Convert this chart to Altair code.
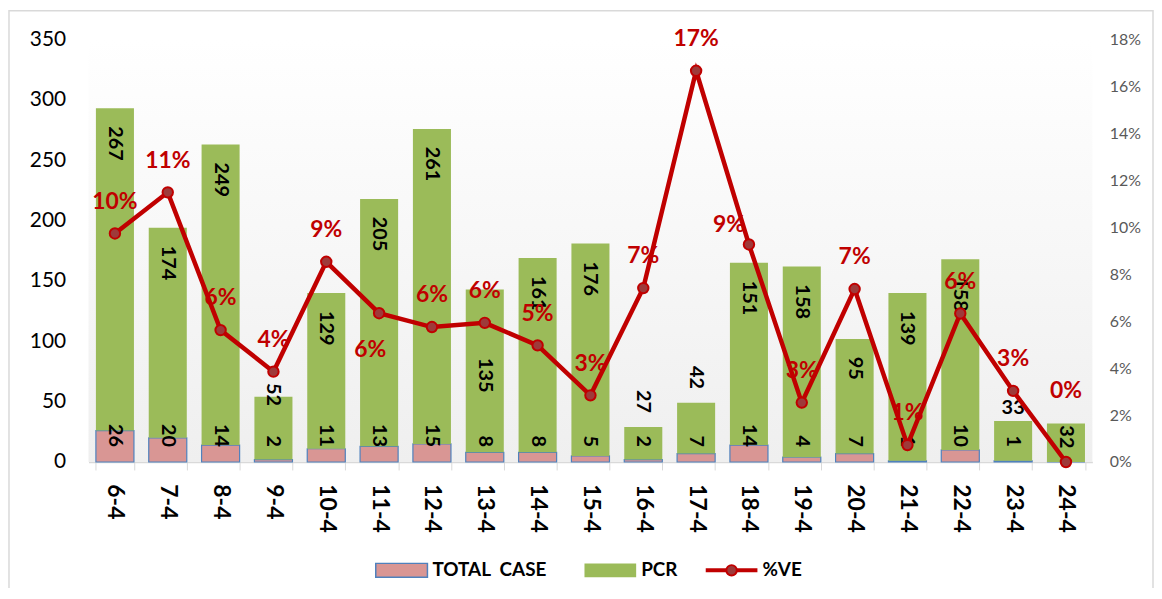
import altair as alt
import pandas as pd

dates = ["6-4", "7-4", "8-4", "9-4", "10-4", "11-4", "12-4", "13-4", "14-4", "15-4",
         "16-4", "17-4", "18-4", "19-4", "20-4", "21-4", "22-4", "23-4", "24-4"]
total_case = [26, 20, 14, 2, 11, 13, 15, 8, 8, 5, 2, 7, 14, 4, 7, 1, 10, 1, 0]
pcr = [267, 174, 249, 52, 129, 205, 261, 135, 161, 176, 27, 42, 151, 158, 95, 139, 158, 33, 32]
ve = [0.0974, 0.1149, 0.0562, 0.0385, 0.0853, 0.0634, 0.0575, 0.0593, 0.0497, 0.0284,
      0.0741, 0.1667, 0.0927, 0.0253, 0.0737, 0.0072, 0.0633, 0.0303, 0.0]
ve_labels = ["10%", "11%", "6%", "4%", "9%", "6%", "6%", "6%", "5%", "3%",
             "7%", "17%", "9%", "3%", "7%", "1%", "6%", "3%", "0%"]
series_names = ["TOTAL\u00a0 CASE", "PCR", "%VE"]
left_ticks = [0, 50, 100, 150, 200, 250, 300, 350]
right_ticks = [0, 0.02, 0.04, 0.06, 0.08, 0.10, 0.12, 0.14, 0.16, 0.18]

PINK = "#D99694"
BLUE = "#4F81BD"
GREEN = "#9BBB59"
RED = "#C00000"
FONT = "Lato"

df = pd.DataFrame({"date": dates, "total": total_case, "pcr": pcr,
                   "ve": ve, "ve_label": ve_labels})

W, H = 1010, 425

x_enc = alt.X(
    "date:N", sort=dates,
    scale=alt.Scale(paddingInner=0.28, paddingOuter=0.14),
    axis=alt.Axis(title=None, labelAngle=90, labelAlign="left", labelBaseline="middle",
                  labelFont=FONT, labelFontSize=23, labelFontWeight="bold",
                  labelColor="black", labelPadding=14, tickBand="extent",
                  tickColor="#d9d9d9", tickSize=8, domainColor="#d9d9d9",
                  domainWidth=1.5, grid=False),
)

yl_scale = alt.Scale(domain=[0, 350], nice=False)
yl_axis = alt.Axis(title=None, values=left_ticks, labelFont=FONT, labelFontSize=21,
                   labelColor="black", labelPadding=23, domain=False, ticks=False,
                   grid=False)

yr_scale = alt.Scale(domain=[0, 0.18], nice=False)
yr_axis = alt.Axis(title=None, orient="right", values=right_ticks, format=".0%",
                   labelFont=FONT, labelFontSize=16, labelColor="#595959",
                   labelPadding=17, domain=False, ticks=False, grid=False)

base = alt.Chart(df).transform_calculate(top="datum.total + datum.pcr", zero="0")
one = alt.Data(values=[{"k": 0}])

grad = alt.LinearGradient(
    gradient="linear", x1=0, y1=0, x2=0, y2=1,
    stops=[alt.GradientStop(color="#ffffff", offset=0),
           alt.GradientStop(color="#efefef", offset=1)],
)
bg = alt.Chart(one).mark_rect(color=grad).encode(
    x=alt.value(0), x2=alt.value(W), y=alt.value(0), y2=alt.value(H))

border = alt.Chart(one).mark_rect(fill=None, stroke="#d9d9d9", strokeWidth=1.5).encode(
    x=alt.value(-80), x2=alt.value(1071), y=alt.value(-29), y2=alt.value(600))

pink_bar = base.mark_bar(color=PINK, stroke=BLUE, strokeWidth=1.2).encode(
    x=x_enc, y=alt.Y("total:Q", scale=yl_scale, axis=yl_axis))
green_bar = base.mark_bar(color=GREEN).encode(
    x=x_enc, y=alt.Y("top:Q", scale=yl_scale, axis=yl_axis), y2="total:Q")

lab_font = dict(baseline="middle", font=FONT, fontSize=20, fontWeight="bold",
                color="black")
y_top = alt.Y("top:Q", scale=yl_scale, axis=yl_axis)

pcr_in = base.transform_filter("datum.pcr >= 60 && datum.date != '13-4'").mark_text(
    align="left", dx=18, angle=90, **lab_font).encode(x=x_enc, y=y_top, text="pcr:Q")
pcr_low = base.transform_filter("datum.date == '13-4'").mark_text(
    align="left", dx=69, angle=90, **lab_font).encode(x=x_enc, y=y_top, text="pcr:Q")
pcr_edge = base.transform_filter("datum.pcr >= 45 && datum.pcr < 60").mark_text(
    align="left", dx=-14, angle=90, **lab_font).encode(x=x_enc, y=y_top, text="pcr:Q")
pcr_out = base.transform_filter("datum.pcr < 40 && datum.total > 0 && datum.date != '23-4' || (datum.pcr >= 40 && datum.pcr < 45)").mark_text(
    align="right", dx=-14, angle=90, **lab_font).encode(x=x_enc, y=y_top, text="pcr:Q")
pcr_flat = base.transform_filter("datum.date == '23-4'").mark_text(
    align="center", dy=-13, **lab_font).encode(x=x_enc, y=y_top, text="pcr:Q")
pcr_top = base.transform_filter("datum.pcr < 45 && datum.total == 0").mark_text(
    align="left", dx=2, angle=90, **lab_font).encode(x=x_enc, y=y_top, text="pcr:Q")
tot_lab = base.transform_filter("datum.total > 0").mark_text(
    align="right", dx=-15, angle=90, **lab_font).encode(
    x=x_enc, y=alt.Y("zero:Q", scale=yl_scale, axis=yl_axis), text="total:Q")

# legend
leg_style = dict(align="left", baseline="middle", font=FONT, fontSize=19,
                 fontWeight="bold", color="black")
leg = [
    alt.Chart(one).mark_rect(fill=PINK, stroke=BLUE, strokeWidth=1.5).encode(
        x=alt.value(289), x2=alt.value(341), y=alt.value(527), y2=alt.value(541)),
    alt.Chart(one).mark_text(text=series_names[0], **leg_style).encode(
        x=alt.value(346), y=alt.value(534)),
    alt.Chart(one).mark_rect(fill=GREEN).encode(
        x=alt.value(499), x2=alt.value(551), y=alt.value(527), y2=alt.value(541)),
    alt.Chart(one).mark_text(text=series_names[1], **leg_style).encode(
        x=alt.value(556), y=alt.value(534)),
    alt.Chart(one).mark_rule(color=RED, strokeWidth=4).encode(
        x=alt.value(621), x2=alt.value(673), y=alt.value(534)),
    alt.Chart(one).mark_circle(size=110, color="#9E3A3A", stroke=RED, strokeWidth=2,
                               opacity=1).encode(x=alt.value(647), y=alt.value(534)),
    alt.Chart(one).mark_text(text=series_names[2], **leg_style).encode(
        x=alt.value(678), y=alt.value(534)),
]

left = alt.layer(bg, border, pink_bar, green_bar, pcr_in, pcr_low, pcr_edge, pcr_out,
                 pcr_flat, pcr_top, tot_lab, *leg)

y_ve = alt.Y("ve:Q", scale=yr_scale, axis=yr_axis)
ve_line = base.mark_line(color=RED, strokeWidth=4.5).encode(x=x_enc, y=y_ve)
ve_pts = base.mark_circle(size=110, color="#9E3A3A", stroke=RED, strokeWidth=2,
                          opacity=1).encode(x=x_enc, y=y_ve)
lab_style = dict(font=FONT, fontSize=23, fontWeight="bold", color=RED,
                 baseline="middle", align="center")
ve_lab = base.transform_filter(
    "datum.date != '11-4' && datum.date != '24-4' && datum.date != '18-4'").mark_text(
    dy=-32, **lab_style).encode(x=x_enc, y=y_ve, text="ve_label:N")
ve_lab_below = base.transform_filter("datum.date == '11-4'").mark_text(
    dy=37, dx=-9, **lab_style).encode(x=x_enc, y=y_ve, text="ve_label:N")
ve_lab_left = base.transform_filter("datum.date == '18-4'").mark_text(
    dy=-20, dx=-20, **lab_style).encode(x=x_enc, y=y_ve, text="ve_label:N")
ve_lab_high = base.transform_filter("datum.date == '24-4'").mark_text(
    dy=-71, **lab_style).encode(x=x_enc, y=y_ve, text="ve_label:N")

right = alt.layer(ve_line, ve_pts, ve_lab, ve_lab_below, ve_lab_left, ve_lab_high)

chart = alt.layer(left, right).resolve_scale(y="independent").properties(
    width=W, height=H,
    padding={"left": 81, "top": 30, "right": 62, "bottom": 125},
    autosize=alt.AutoSizeParams(type="none"),
).configure_view(stroke=None)

chart.save("out.html", embed_options={"renderer": "svg", "actions": False})
